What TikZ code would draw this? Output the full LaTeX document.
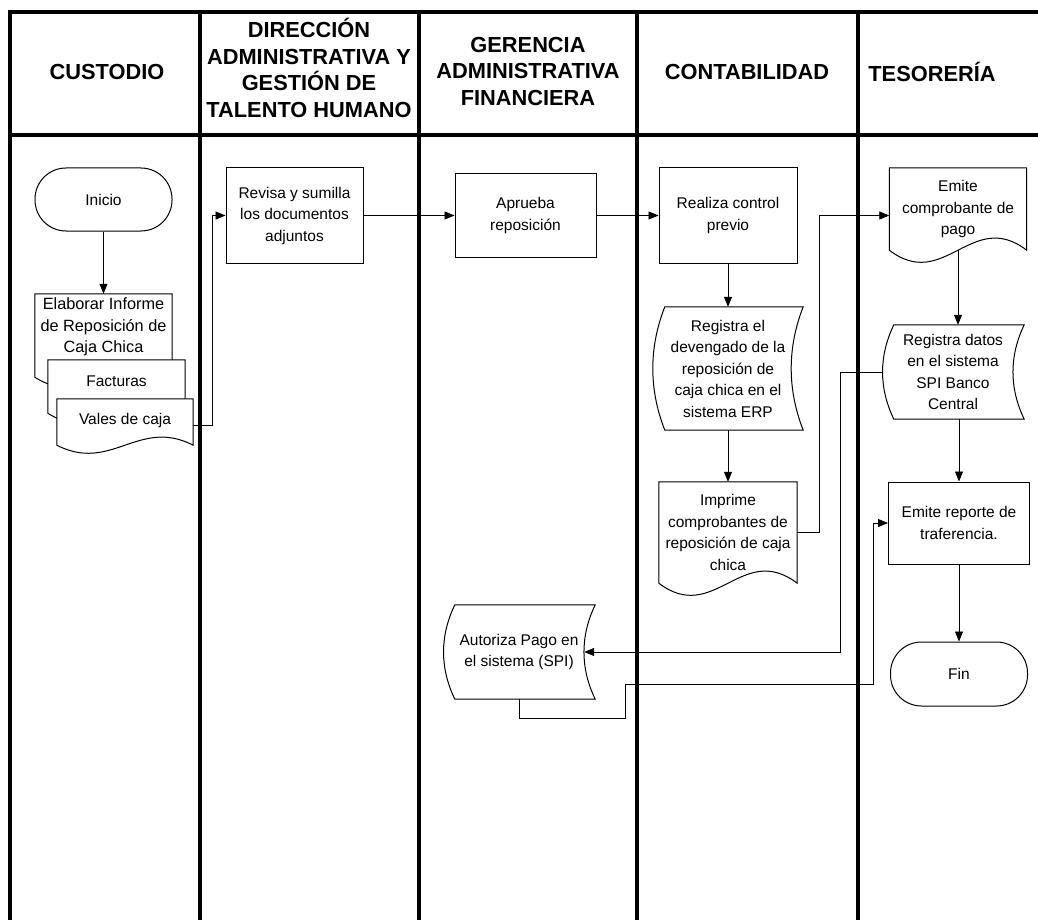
\documentclass[tikz,border=0pt]{standalone}
\usepackage{fontspec}
\setmainfont{Liberation Sans}
\usetikzlibrary{arrows.meta,calc}

\pgfdeclarelayer{back}
\pgfsetlayers{back,main}

% document symbol: node, extra side length, depth of the wave
\newcommand{\docoutline}[3]{%
  \draw[symline] (#1.north west) -- (#1.north east) -- ($(#1.south east)+(0,#2)$)
    .. controls ($(#1.south east)!0.4!(#1.south west)+(0,#2-#3)$)
       and ($(#1.south east)!0.6!(#1.south west)+(0,#2+#3)$) .. ($(#1.south west)+(0,#2)$)
    -- cycle;}
% stored data symbol: node, bulge of both sides, shift to the right
\newcommand{\tapeoutline}[3]{%
  \draw[symline] ($(#1.north west)+(#3,0)$) -- ($(#1.north east)+(#3,0)$)
    .. controls ($(#1.north east)!0.33!(#1.south east)+(#3-#2,0)$)
       and ($(#1.north east)!0.67!(#1.south east)+(#3-#2,0)$) .. ($(#1.south east)+(#3,0)$)
    -- ($(#1.south west)+(#3,0)$)
    .. controls ($(#1.south west)!0.33!(#1.north west)+(#3-#2,0)$)
       and ($(#1.south west)!0.67!(#1.north west)+(#3-#2,0)$) .. cycle;}

\begin{document}
\begin{tikzpicture}[x=1pt,y=-1pt,>={Triangle[length=10pt,width=8pt]},
    lane/.style={line width=3.5pt,line cap=rect},
    lanehead/.style={font=\fontsize{21.8}{26.5}\selectfont\bfseries,align=center},
    txtbox/.style={font=\fontsize{15.5}{21.5}\selectfont,align=center,inner sep=0pt,minimum width=137pt},
    proc/.style={txtbox,draw,line width=1pt},
    term/.style={proc,rounded corners=31pt},
    symline/.style={draw,line width=1pt,fill=white},
    link/.style={->,line width=0.8pt}]
\useasboundingbox (0,0) rectangle (1038,920);

% 1) lanes and header
\begin{pgfonlayer}{back}
  \draw[lane] (10,12) -- (1038,12);
  \draw[lane] (10,135) -- (1038,135);
  \foreach \x in {10,200,419,637,858}
    \draw[lane] (\x,12) -- (\x,920);
\end{pgfonlayer}
\node[lanehead] (custodio) at (107,72) {CUSTODIO};
\node[lanehead] (direccion) at (309,68) {DIRECCIÓN\\ADMINISTRATIVA Y\\GESTIÓN DE\\TALENTO HUMANO};
\node[lanehead] (gerencia) at (528,71) {GERENCIA\\ADMINISTRATIVA\\FINANCIERA};
\node[lanehead] (contabilidad) at (747,72) {CONTABILIDAD};
\node[lanehead] (tesoreria) at (932,72) {TESORERÍA};

% 2) custodio
\node[term,minimum height=63pt] (inicio) at (103.5,199.5) {Inicio};
\node[txtbox,minimum height=66pt,font=\fontsize{16.3}{21.5}\selectfont] (elaborar) at (103.5,327)
  {Elaborar Informe\\de Reposición de\\Caja Chica};
\node[txtbox,minimum height=42pt] (facturas) at (116.5,381) {Facturas};
\node[txtbox,minimum height=42pt,minimum width=136pt] (vales) at (125,420) {Vales de caja};

% 3) direccion administrativa
\node[proc,minimum height=95pt] (revisa) at (294.5,215.5) {Revisa y sumilla\\los documentos\\adjuntos};

% 4) gerencia
\node[proc,minimum width=141pt,minimum height=83pt] (aprueba) at (525.5,215.5) {Aprueba\\reposición};
\node[txtbox,minimum width=140pt,minimum height=94pt] (autoriza) at (519,652) {Autoriza Pago en\\el sistema (SPI)};

% 5) contabilidad
\node[proc,minimum width=138pt,minimum height=95pt] (realiza) at (728,215.5) {Realiza control\\previo};
\node[txtbox,minimum width=138pt,minimum height=123pt] (registra) at (728,368.5)
  {Registra el\\devengado de la\\reposición de\\caja chica en el\\sistema ERP};
\node[txtbox,minimum width=138pt,minimum height=101pt] (imprime) at (728,532.5)
  {Imprime\\comprobantes de\\reposición de caja\\chica};

% 6) tesoreria
\node[txtbox,minimum height=82pt] (comprobante) at (958,209) {Emite\\comprobante de\\pago};
\node[txtbox,minimum width=130pt,minimum height=94pt] (datos) at (953,372)
  {Registra datos\\en el sistema\\SPI Banco\\Central};
\node[proc,minimum width=141pt,minimum height=82pt] (reporte) at (959,523) {Emite reporte de\\traferencia.};
\node[term,minimum height=64pt] (fin) at (959,674) {Fin};

% symbol outlines go under the texts
\begin{pgfonlayer}{back}
  \docoutline{elaborar}{17}{35}
  \docoutline{facturas}{11}{35}
  \docoutline{vales}{4}{28}
  \tapeoutline{registra}{16}{6}
  \docoutline{imprime}{0}{42}
  \tapeoutline{autoriza}{15}{6}
  \docoutline{comprobante}{0}{42}
  \tapeoutline{datos}{15}{6}
\end{pgfonlayer}

% 7) connectors
\coordinate (c1) at (625,718);
\coordinate (c2) at (873,684);
\draw[link] (inicio) -- (elaborar);
\draw[link] ([yshift=-5pt]vales.east) -- ++(19,0) |- (revisa);
\draw[link] (revisa) -- (aprueba);
\draw[link] (aprueba) -- (realiza);
\draw[link] (realiza) -- (registra);
\draw[link] (registra) -- (imprime);
\draw[link] (imprime.east) -- ++(22,0) |- (comprobante.west |- realiza.east);
\draw[link] (comprobante.south) -- (comprobante.south |- datos.north);
\draw[link] (datos.south -| reporte) -- (reporte);
\draw[link] (reporte) -- (fin);
\draw[link] ([xshift=-5pt]datos.west) -- ++(-42,0) |- ([xshift=-5pt]autoriza.east);
\draw[link] (autoriza.south) |- (c1) |- (c2) |- (reporte.west);
\end{tikzpicture}
\end{document}
